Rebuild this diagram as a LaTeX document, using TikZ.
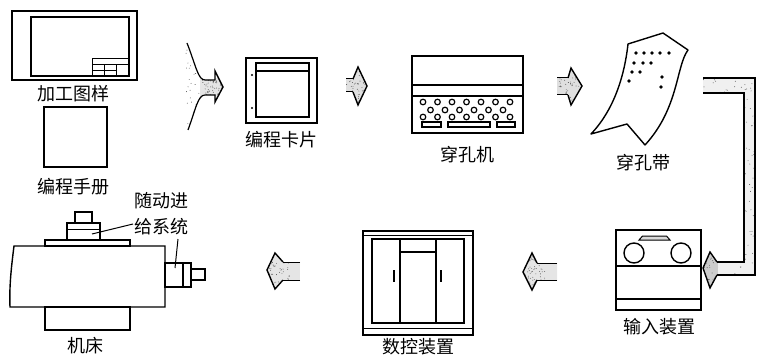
\documentclass[tikz,border=0pt]{standalone}
\usepackage{fontspec}
\newfontfamily\cjk{Noto Sans CJK SC}
\newcommand\stip[5]{\foreach \k in {1,...,#5}{\fill[black!70] ({#1+rnd*(#3-#1)},{#2+rnd*(#4-#2)}) circle (0.45pt);}}
\begin{document}
\begin{tikzpicture}[x=1pt,y=-1pt,line width=1.4pt,line join=miter,
  lbl/.style={font=\cjk\fontsize{18}{18}\selectfont,inner sep=0pt},
  thinline/.style={line width=1pt},
  hole/.style={fill=black}]
\useasboundingbox (0,0) rectangle (757,358);
\pgfmathsetseed{7}

% ---------- drawing 加工图样
\draw (12,11) rectangle (137,80);
\draw (31,17) rectangle (129,76);
\draw[thinline] (92,59) -- (129,59) (92,59) -- (92,76) (92,64.5) -- (129,64.5) (92,70.2) -- (116,70.2)
  (104,64.5) -- (104,76) (116,64.5) -- (116,76);
\node[lbl] (drw) at (73,94) {加工图样};

% ---------- manual 编程手册
\draw (44,107) rectangle (107,167);
\node[lbl] (man) at (73,187) {编程手册};

% ---------- funnel arrow
\begin{scope}
\clip (187,43) -- (202,80) -- (215,80) -- (215,71) -- (223,87) -- (215,102) -- (215,95) -- (202,95) -- (188,130) -- (180,90) -- cycle;
\fill[gray!20] (200,78) rectangle (224,104);
\stip{185}{40}{224}{132}{90}
\stip{205}{78}{224}{100}{60}
\end{scope}
\draw[line width=1.2pt] (187,43) .. controls (196,66) and (198,80) .. (205,80) -- (215,80);
\draw[line width=1.2pt] (188,130) .. controls (196,108) and (198,95) .. (205,95) -- (215,95);
\draw (215,80) -- (215,71) -- (223,87) -- (215,102) -- (215,95);

% ---------- card 编程卡片
\draw (246,58) rectangle (317,123);
\draw (256,63) rectangle (309,117);
\draw (256,71) -- (309,71);
\fill (252,75) circle (1.1pt) (252,108) circle (1.1pt);
\node[lbl] (card) at (281,140) {编程卡片};

% ---------- arrow 2
\begin{scope}
\clip (346,79) -- (353,79) -- (358,67) -- (367,86) -- (358,105) -- (353,92) -- (346,92) -- cycle;
\fill[gray!25] (346,66) rectangle (368,106);
\stip{346}{66}{368}{106}{70}
\end{scope}
\draw[thinline] (346,79) -- (353,79) (346,92) -- (353,92);
\draw (353,79) -- (358,67) -- (367,86) -- (358,105) -- (353,92);

% ---------- punch 穿孔机
\draw (412,56) rectangle (523,133);
\draw (412,85) -- (523,85) (412,96) -- (523,96);
\foreach \i in {0,...,6}{
  \draw[line width=1.2pt] ({423+\i*14.5},102) circle (2.8pt);
  \draw[line width=1.2pt] ({423+\i*14.5},117) circle (2.8pt);}
\foreach \i in {0,...,5}
  \draw[line width=1.2pt] ({430.5+\i*14.5},110) circle (2.8pt);
\draw[line width=1.2pt] (422,122) rectangle (441,127) (448,122) rectangle (490,127) (497,122) rectangle (515,127);
\node[lbl] (pm) at (467,155) {穿孔机};

% ---------- arrow 3
\begin{scope}
\clip (557,78) -- (568,78) -- (571,68) -- (582,86) -- (571,105) -- (568,95) -- (557,95) -- cycle;
\fill[gray!25] (556,66) rectangle (583,106);
\stip{556}{66}{583}{106}{70}
\end{scope}
\draw[thinline] (557,78) -- (568,78) (557,95) -- (568,95);
\draw (568,78) -- (571,68) -- (582,86) -- (571,105) -- (568,95);

% ---------- punched tape 穿孔带
\draw[line join=round] (628,44) -- (663,33) -- (688,50)
  .. controls (676,66) and (679,108) .. (645,145) -- (627,124) -- (591,134)
  .. controls (612,112) and (624,80) .. (628,44) -- cycle;
\foreach \p in {(636,53),(644,53),(652,53),(660,53),(669,53),(634,63),(643,63),(651,63),(632,72),(640,72),(629,81),(662,77),(661,87)}
  \fill \p circle (1.9pt);
\node[lbl] (tape) at (643,163) {穿孔带};

% ---------- tape channel
\begin{scope}
\clip (703,78) -- (755,78) -- (755,275) -- (717,275) -- (710,288) -- (703,268) -- (710,252) -- (717,262) -- (744,262) -- (744,93) -- (703,93) -- cycle;
\fill[gray!12] (700,75) rectangle (757,290);
\stip{700}{75}{757}{290}{260}
\fill[gray!40] (702,250) rectangle (718,290);
\stip{702}{250}{718}{290}{60}
\end{scope}
\draw[line width=1.2pt] (703,78) -- (755,78) -- (755,275) -- (717,275);
\draw[line width=1.2pt] (703,93) -- (744,93) -- (744,262) -- (717,262);
\draw (717,262) -- (710,252) -- (703,268) -- (710,288) -- (717,275);

% ---------- input device 输入装置
\draw (616,230) rectangle (701,310);
\draw (616,266) -- (701,266) (616,299) -- (701,299);
\draw (634,253) circle (10pt) (681,253) circle (10pt);
\draw[thinline,fill=gray!30] (639,240) -- (642.5,236) -- (666.5,236) -- (670,240) -- cycle;
\node[lbl] (inp) at (659,327) {输入装置};

% ---------- arrow input -> CNC
\begin{scope}
\clip (557,263) -- (537,263) -- (532,253) -- (523,272) -- (532,290) -- (537,280) -- (557,280) -- cycle;
\fill[gray!20] (522,252) rectangle (558,291);
\stip{522}{252}{545}{291}{80}
\end{scope}
\draw[thinline] (557,263) -- (537,263) (557,280) -- (537,280);
\draw (537,263) -- (532,253) -- (523,272) -- (532,290) -- (537,280);

% ---------- CNC 数控装置
\draw (363,231) rectangle (473,335);
\draw[thinline] (363,235) -- (473,235) (363,328) -- (473,328);
\draw (372,239) rectangle (464,323);
\draw (400,239) -- (400,323) (436,239) -- (436,323) (400,252) -- (436,252);
\draw (394,270) -- (394,282) (441,270) -- (441,282);
\node[lbl] (cnc) at (418,347) {数控装置};

% ---------- arrow CNC -> machine
\begin{scope}
\clip (300,262) -- (283,262) -- (275,253) -- (267,270) -- (275,289) -- (283,280) -- (300,280) -- cycle;
\fill[gray!20] (266,252) rectangle (301,290);
\stip{266}{252}{290}{290}{80}
\end{scope}
\draw[thinline] (300,262) -- (283,262) (300,280) -- (283,280);
\draw (283,262) -- (275,253) -- (267,270) -- (275,289) -- (283,280);

% ---------- machine 机床
\draw (75,212) rectangle (92,223);
\draw (67,223) rectangle (100,240);
\draw[thinline] (67,229) -- (100,229);
\draw (45,240) rectangle (130,246);
\draw (14,246) -- (165,246) -- (165,307) -- (10,307) .. controls (9,285) and (12,262) .. (14,246) -- cycle;
\draw (45,307) rectangle (130,330);
\draw (165,263) rectangle (191,287);
\draw (183,263) -- (183,287);
\draw (191,269) rectangle (205,280);
\node[lbl,anchor=west] (feed1) at (134,201) {随动进};
\node[lbl,anchor=west] (feed2) at (134,227) {给系统};
\draw[thinline] (feed2.west) ++(-1,-3) -- (92,234);
\draw[thinline] (178,239) -- (175,268);
\node[lbl] (mt) at (85,346) {机床};
\end{tikzpicture}
\end{document}
